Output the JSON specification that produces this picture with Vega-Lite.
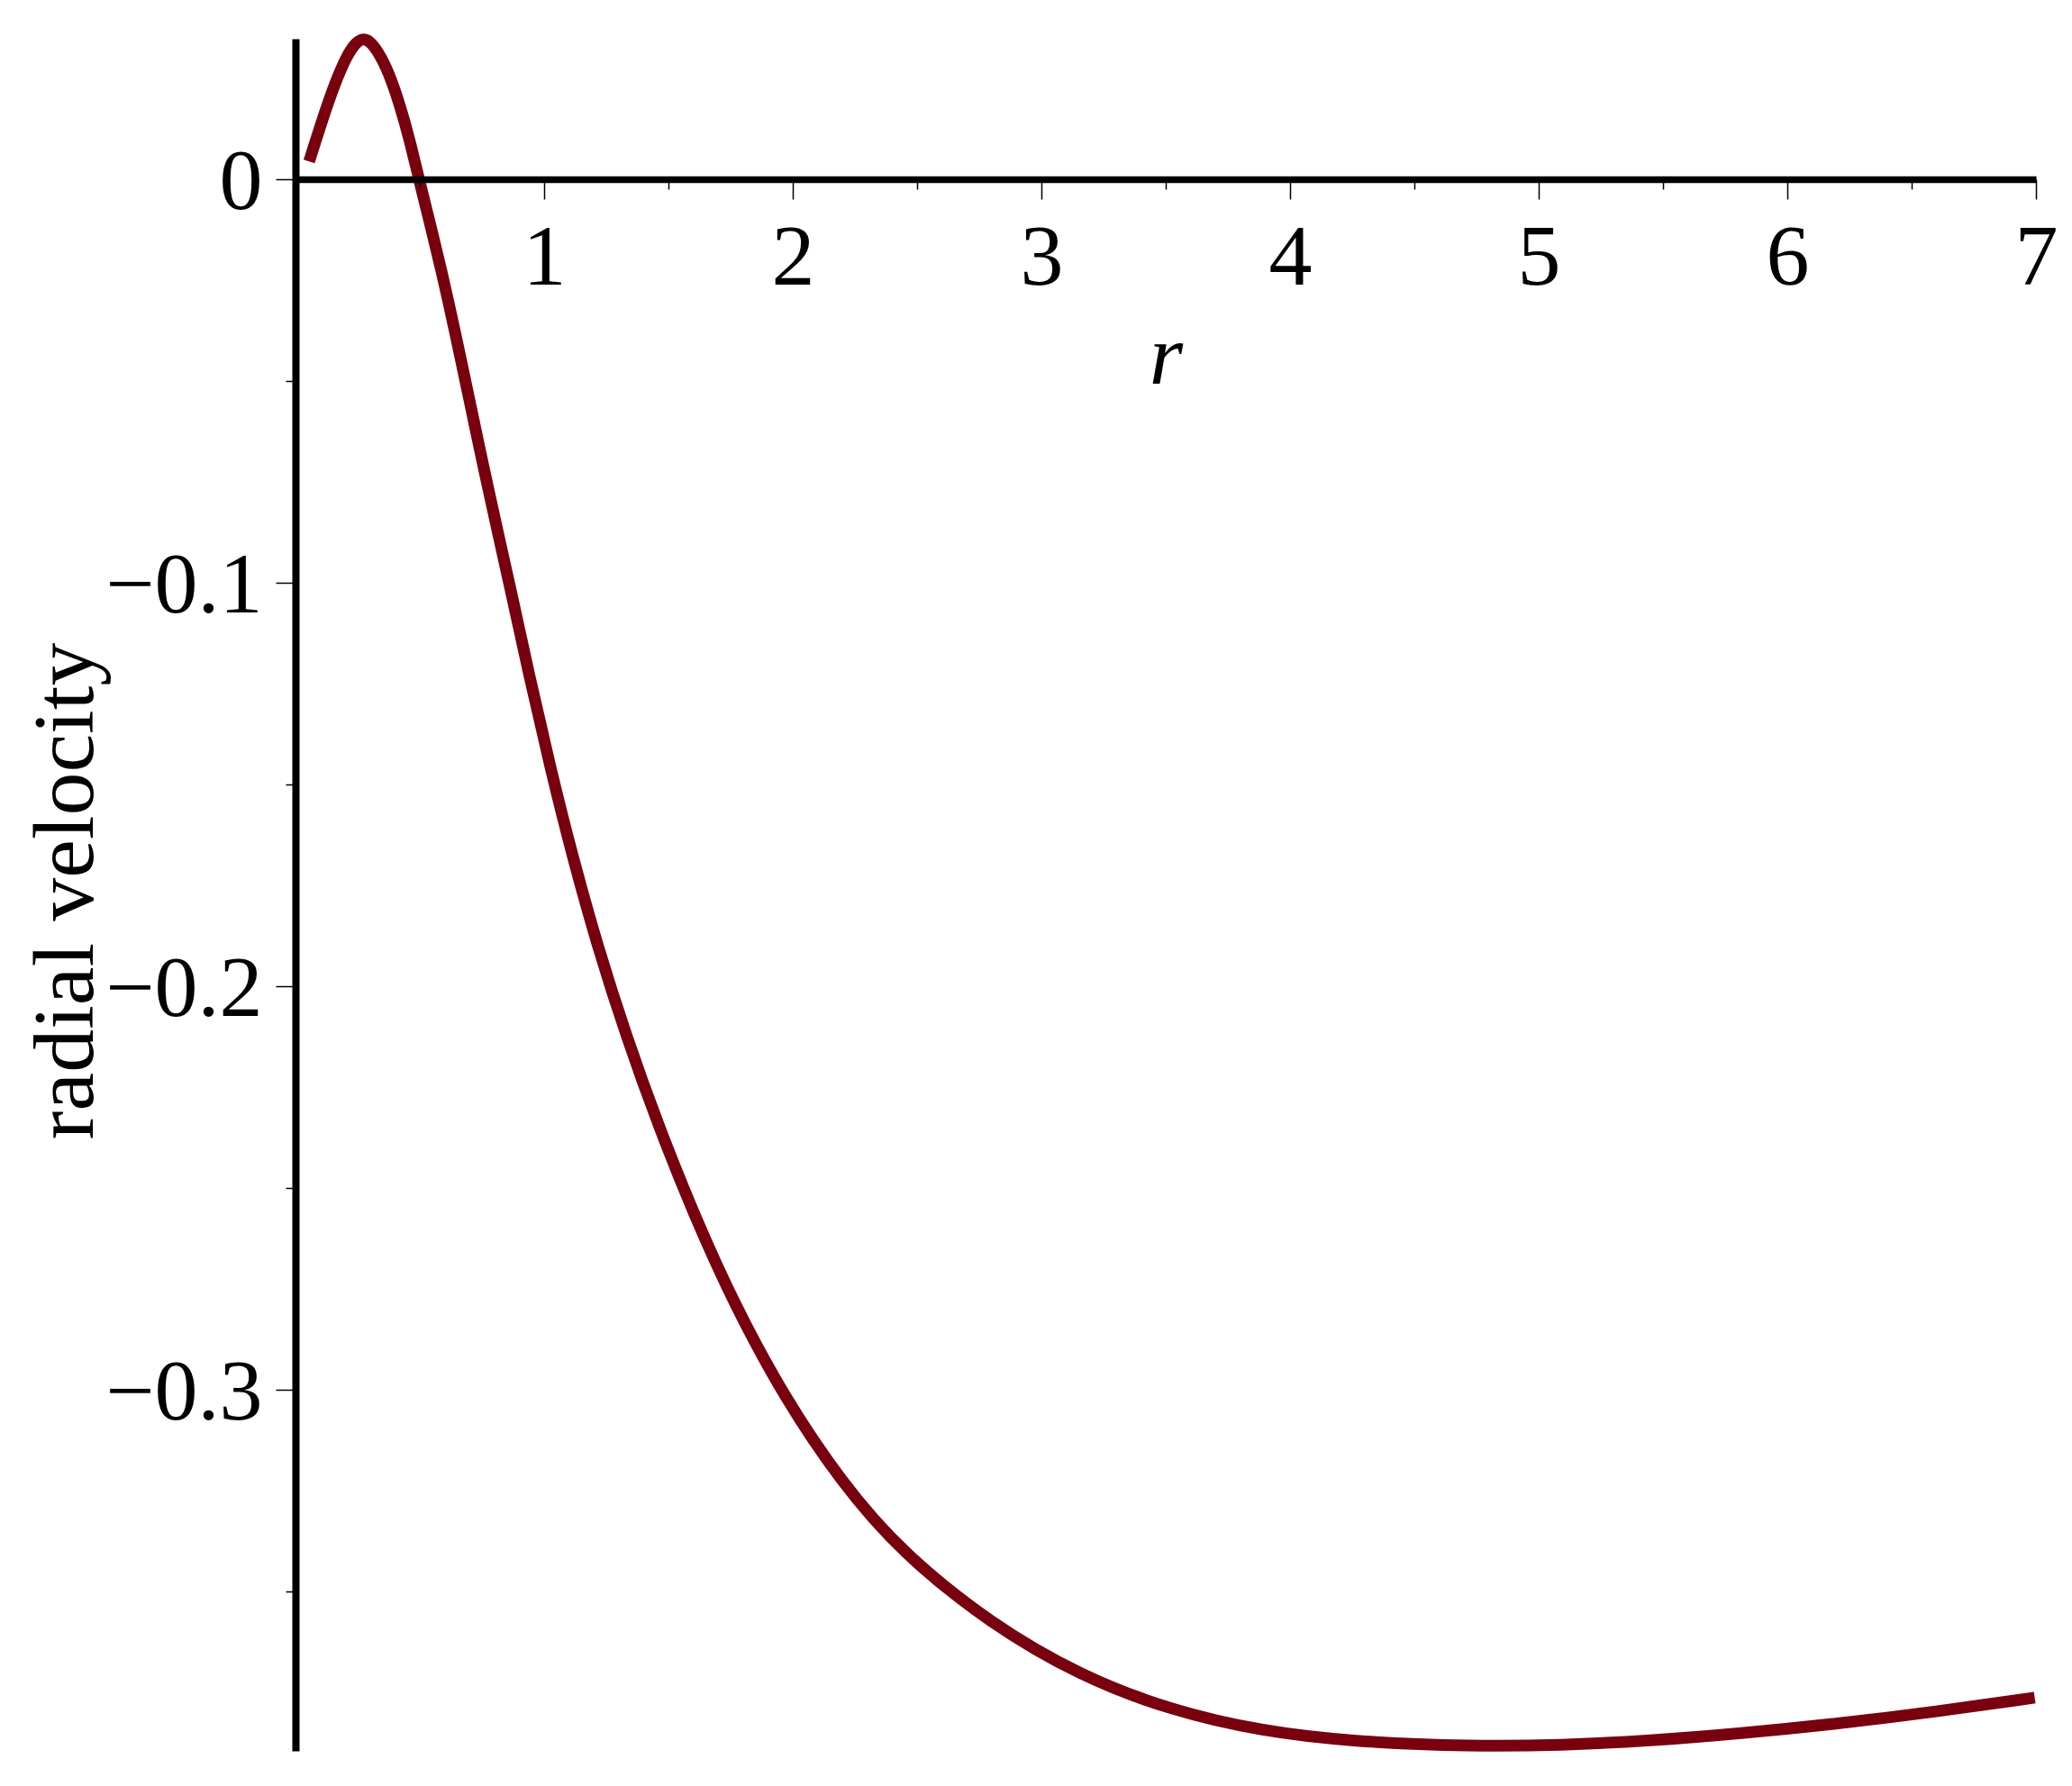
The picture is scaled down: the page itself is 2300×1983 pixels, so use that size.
{
  "$schema": "https://vega.github.io/schema/vega-lite/v6.json",
  "width": 1932,
  "height": 1901,
  "autosize": {"type": "none"},
  "padding": {"left": 328, "top": 43, "right": 40, "bottom": 39},
  "background": "white",
  "config": {"view": {"stroke": null}, "axis": {"grid": false}},
  "data": {"values": [
    {"r": 0.055, "v": 0.0043},
    {"r": 0.08, "v": 0.0092},
    {"r": 0.105, "v": 0.0140},
    {"r": 0.135, "v": 0.0195},
    {"r": 0.167, "v": 0.0249},
    {"r": 0.203, "v": 0.0300},
    {"r": 0.237, "v": 0.0334},
    {"r": 0.27, "v": 0.0349},
    {"r": 0.303, "v": 0.0340},
    {"r": 0.345, "v": 0.0302},
    {"r": 0.383, "v": 0.0250},
    {"r": 0.42, "v": 0.0182},
    {"r": 0.458, "v": 0.0100},
    {"r": 0.496, "v": 0.0},
    {"r": 0.543, "v": -0.0115},
    {"r": 0.587, "v": -0.0227},
    {"r": 0.627, "v": -0.0338},
    {"r": 0.666, "v": -0.0450},
    {"r": 0.704, "v": -0.0561},
    {"r": 0.742, "v": -0.0673},
    {"r": 0.781, "v": -0.0784},
    {"r": 0.821, "v": -0.0896},
    {"r": 0.862, "v": -0.1008},
    {"r": 0.940, "v": -0.1231},
    {"r": 1.023, "v": -0.1454},
    {"r": 1.113, "v": -0.1677},
    {"r": 1.214, "v": -0.1900},
    {"r": 1.330, "v": -0.2124},
    {"r": 1.460, "v": -0.2347},
    {"r": 1.605, "v": -0.2570},
    {"r": 1.768, "v": -0.2793},
    {"r": 1.967, "v": -0.3020},
    {"r": 2.196, "v": -0.3230},
    {"r": 2.435, "v": -0.3402},
    {"r": 2.797, "v": -0.3581},
    {"r": 3.159, "v": -0.3710},
    {"r": 3.522, "v": -0.3795},
    {"r": 3.884, "v": -0.3846},
    {"r": 4.246, "v": -0.3872},
    {"r": 4.730, "v": -0.3884},
    {"r": 5.090, "v": -0.3881},
    {"r": 5.450, "v": -0.3870},
    {"r": 5.810, "v": -0.3852},
    {"r": 6.200, "v": -0.3828},
    {"r": 6.600, "v": -0.3798},
    {"r": 6.995, "v": -0.3763}
  ]},
  "layer": [
    {
      "mark": {"type": "line", "color": "#78000f", "strokeWidth": 13, "interpolate": "basis", "strokeCap": "butt", "strokeJoin": "round"},
      "encoding": {
        "x": {
          "field": "r", "type": "quantitative",
          "scale": {"domain": [0, 7], "nice": false, "zero": false},
          "axis": {
            "orient": "bottom", "offset": -1745, "zindex": 1,
            "values": [1, 2, 3, 4, 5, 6, 7],
            "domainColor": "black", "domainWidth": 7.5,
            "tickColor": "black", "tickWidth": 1.5, "tickSize": 22,
            "labelFont": "Liberation Serif", "labelFontSize": 96, "labelColor": "black",
            "labelBaseline": "alphabetic", "labelPadding": 94, "labelFlush": false, "labelOverlap": false,
            "title": "r", "titleFont": "Liberation Serif", "titleFontSize": 96, "titleFontStyle": "italic",
            "titleFontWeight": "normal", "titleColor": "black", "titleBaseline": "alphabetic",
            "titleX": 966, "titleY": 226, "titleAlign": "center"
          }
        },
        "y": {
          "field": "v", "type": "quantitative",
          "scale": {"domain": [-0.3895, 0.0347], "nice": false, "zero": false},
          "axis": {
            "orient": "left", "zindex": 1,
            "values": [0, -0.1, -0.2, -0.3],
            "labelExpr": "datum.value == 0 ? '0' : '−' + format(-datum.value, '.1f')",
            "domainColor": "black", "domainWidth": 8,
            "tickColor": "black", "tickWidth": 1.5, "tickSize": 22,
            "labelFont": "Liberation Serif", "labelFontSize": 96, "labelColor": "black",
            "labelBaseline": "alphabetic", "labelOffset": 33, "labelPadding": 15, "labelAlign": "right",
            "labelFlush": false, "labelOverlap": false,
            "title": "radial velocity", "titleFont": "Liberation Serif", "titleFontSize": 96,
            "titleFontWeight": "normal", "titleColor": "black", "titleBaseline": "alphabetic",
            "titleAngle": 270, "titleAlign": "center", "titleX": -226, "titleY": 946
          }
        }
      }
    },
    {
      "mark": {"type": "line", "opacity": 0},
      "encoding": {
        "x": {
          "field": "r", "type": "quantitative",
          "axis": {
            "orient": "bottom", "offset": -1745, "zindex": 1,
            "values": [0.5, 1.5, 2.5, 3.5, 4.5, 5.5, 6.5],
            "domain": false, "labels": false, "title": null,
            "tickColor": "black", "tickWidth": 1.5, "tickSize": 11
          }
        },
        "y": {
          "field": "v", "type": "quantitative",
          "axis": {
            "orient": "left", "zindex": 1,
            "values": [-0.05, -0.15, -0.25, -0.35],
            "domain": false, "labels": false, "title": null,
            "tickColor": "black", "tickWidth": 1.5, "tickSize": 11
          }
        }
      }
    }
  ],
  "resolve": {"axis": {"x": "independent", "y": "independent"}}
}
